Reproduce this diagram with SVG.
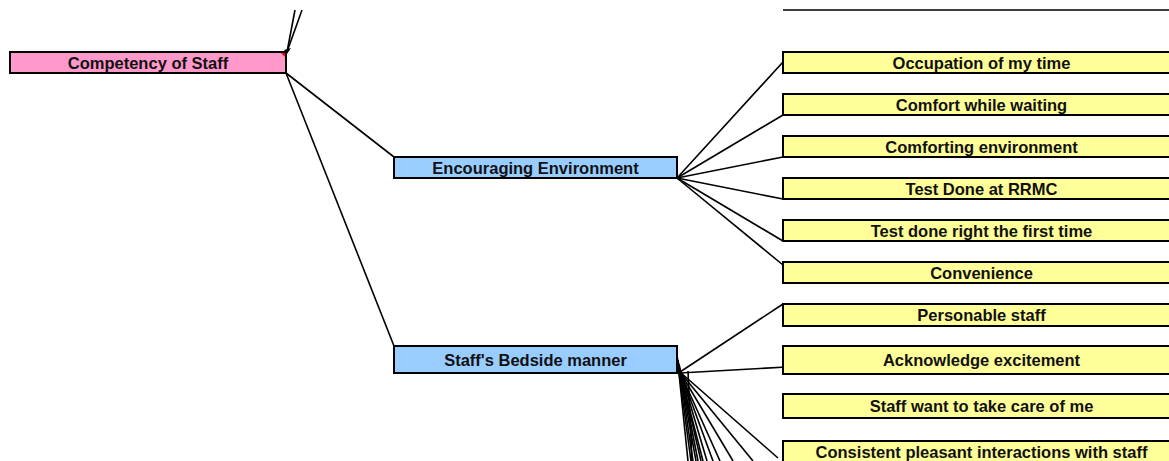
<svg xmlns="http://www.w3.org/2000/svg" width="1169" height="461" viewBox="0 0 1169 461">
<style>
.box{stroke:#000;stroke-width:2}
.pink{fill:#FF99CC}
.blue{fill:#99CCFF}
.yel{fill:#FFFF99}
text{font-family:"Liberation Sans",Arial,sans-serif;font-weight:bold;font-size:16.5px;fill:#111;text-anchor:middle}
.c line{stroke:#000;stroke-width:1.6}
</style>
<rect width="1169" height="461" fill="#fff"/>
<g class="c" id="connectors">
<line x1="295" y1="10" x2="287" y2="52"/>
<line x1="302" y1="10" x2="288" y2="49"/>
<polygon points="284,50 291,48 287,54" fill="#000"/>
<line x1="286" y1="73" x2="394" y2="157"/>
<line x1="286" y1="73" x2="394" y2="346"/>
<line x1="677" y1="178" x2="783" y2="62"/>
<line x1="677" y1="178" x2="783" y2="115"/>
<line x1="677" y1="178" x2="783" y2="157"/>
<line x1="677" y1="178" x2="783" y2="199"/>
<line x1="677" y1="178" x2="783" y2="241"/>
<line x1="677" y1="178" x2="783" y2="265"/>
<line x1="680" y1="372" x2="783" y2="304"/>
<line x1="680" y1="373" x2="786" y2="367"/>
<line x1="680" y1="372" x2="778" y2="458"/>
<line x1="677" y1="354" x2="688" y2="461"/>
<line x1="677" y1="357" x2="691" y2="461"/>
<line x1="678" y1="360" x2="693" y2="461"/>
<line x1="678" y1="362" x2="696" y2="461"/>
<line x1="679" y1="364" x2="698" y2="461"/>
<line x1="679" y1="366" x2="701" y2="461"/>
<line x1="679" y1="368" x2="703" y2="461"/>
<line x1="680" y1="370" x2="707" y2="461"/>
<line x1="680" y1="371" x2="713" y2="461"/>
<line x1="680" y1="372" x2="720" y2="461"/>
<line x1="680" y1="372" x2="733" y2="461"/>
<line x1="680" y1="372" x2="753" y2="461"/>
<line x1="688" y1="371" x2="692" y2="461"/>
<line x1="783" y1="10" x2="1169" y2="10"/>
</g>
<g id="n-competency">
<rect class="box pink" x="10" y="52" width="276" height="21"/>
<polygon points="281,53 285,53 285,57" fill="#FF0000"/>
<text x="148" y="69">Competency of Staff</text>
</g>
<g id="n-encouraging">
<rect class="box blue" x="394" y="157" width="283" height="21"/>
<text x="535.5" y="174">Encouraging Environment</text>
</g>
<g id="n-bedside">
<rect class="box blue" x="394" y="346" width="283" height="27"/>
<text x="535.5" y="366">Staff's Bedside manner</text>
</g>
<g id="n-occupation">
<rect class="box yel" x="783" y="52" width="397" height="21"/>
<text x="981.5" y="69">Occupation of my time</text>
</g>
<g id="n-comfort">
<rect class="box yel" x="783" y="94" width="397" height="21"/>
<text x="981.5" y="111">Comfort while waiting</text>
</g>
<g id="n-comforting">
<rect class="box yel" x="783" y="136" width="397" height="21"/>
<text x="981.5" y="153">Comforting environment</text>
</g>
<g id="n-testdone">
<rect class="box yel" x="783" y="178" width="397" height="21"/>
<text x="981.5" y="195">Test Done at RRMC</text>
</g>
<g id="n-testright">
<rect class="box yel" x="783" y="220" width="397" height="21"/>
<text x="981.5" y="237">Test done right the first time</text>
</g>
<g id="n-convenience">
<rect class="box yel" x="783" y="262" width="397" height="21"/>
<text x="981.5" y="279">Convenience</text>
</g>
<g id="n-personable">
<rect class="box yel" x="783" y="304" width="397" height="22"/>
<text x="981.5" y="321">Personable staff</text>
</g>
<g id="n-acknowledge">
<rect class="box yel" x="783" y="346" width="397" height="28"/>
<text x="981.5" y="366">Acknowledge excitement</text>
</g>
<g id="n-staffwant">
<rect class="box yel" x="783" y="394" width="397" height="24"/>
<text x="981.5" y="412">Staff want to take care of me</text>
</g>
<g id="n-consistent">
<rect class="box yel" x="783" y="441" width="397" height="30"/>
<text x="981.5" y="458">Consistent pleasant interactions with staff</text>
</g>
</svg>
